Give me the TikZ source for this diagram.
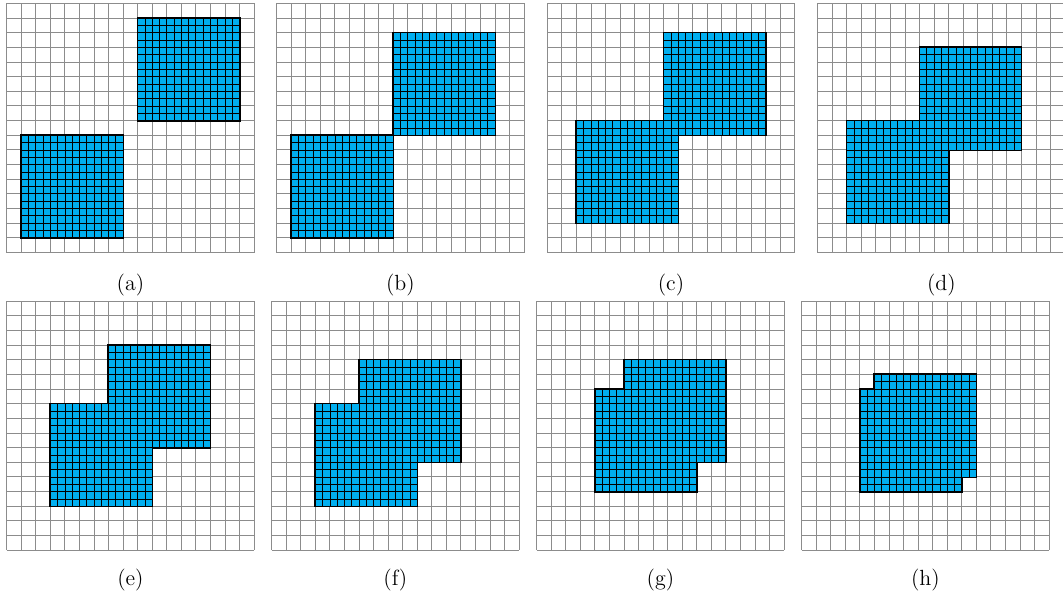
\documentclass[tikz,border=0pt]{standalone}
\usetikzlibrary{calc}
\definecolor{blockBlue}{RGB}{0,174,239}
\definecolor{gridGray}{HTML}{8C8C8C}
\tikzset{
  gridLine/.style={draw=gridGray, line width=0.5pt},
  fineLine/.style={draw=black, line width=0.45pt},
  blockEdge/.style={draw=black, line width=1.2pt},
  blockFill/.style={fill=blockBlue},
  subCaption/.style={font=\fontsize{12.5}{15}\selectfont, anchor=base}
}
\newcommand{\cellW}{14.55}
\newcommand{\cellH}{14.66}
% #1,#2 top-left corner; #3,#4 first block (column,row); #5,#6 second block
\newcommand{\gridPanel}[6]{%
  \begin{scope}[shift={(#1,#2)}]
    \foreach \i in {0,...,17} {
      \draw[gridLine] (\i*\cellW,0) -- (\i*\cellW,17*\cellH);
      \draw[gridLine] (0,\i*\cellH) -- (17*\cellW,\i*\cellH);
    }
    \foreach \c/\r in {#3/#4,#5/#6} {
      \draw[blockEdge] (\c*\cellW,\r*\cellH) rectangle ++(7*\cellW,7*\cellH);
    }
    \foreach \c/\r in {#3/#4,#5/#6} {
      \fill[blockFill] (\c*\cellW,\r*\cellH) rectangle ++(7*\cellW,7*\cellH);
    }
    \foreach \c/\r in {#3/#4,#5/#6} {
      \foreach \k in {0,...,14} {
        \draw[fineLine] ({(\c+\k/2)*\cellW},\r*\cellH) -- ++(0,7*\cellH);
        \draw[fineLine] (\c*\cellW,{(\r+\k/2)*\cellH}) -- ++(7*\cellW,0);
      }
    }
  \end{scope}
}

\begin{document}
\begin{tikzpicture}[x=0.02cm,y=-0.02cm]
\useasboundingbox (0,0) rectangle (1063,600);
\clip (0,0) rectangle (1063,600);

% top row
\gridPanel{6.7}{3.3}{9}{1}{1}{9}
\gridPanel{276.7}{3.3}{8}{2}{1}{9}
\gridPanel{547.3}{3.3}{8}{2}{2}{8}
\gridPanel{817.7}{3.3}{7}{3}{2}{8}
\node[subCaption] (capA) at (130.4,290) {(a)};
\node[subCaption] (capB) at (400.4,290) {(b)};
\node[subCaption] (capC) at (671.0,290) {(c)};
\node[subCaption] (capD) at (941.4,290) {(d)};

% bottom row
\gridPanel{6.7}{301}{7}{3}{3}{7}
\gridPanel{271.7}{301}{6}{4}{3}{7}
\gridPanel{536.7}{301}{6}{4}{4}{6}
\gridPanel{801.7}{301}{5}{5}{4}{6}
\node[subCaption] (capE) at (130.4,585) {(e)};
\node[subCaption] (capF) at (395.4,585) {(f)};
\node[subCaption] (capG) at (660.4,585) {(g)};
\node[subCaption] (capH) at (925.4,585) {(h)};

\end{tikzpicture}
\end{document}
